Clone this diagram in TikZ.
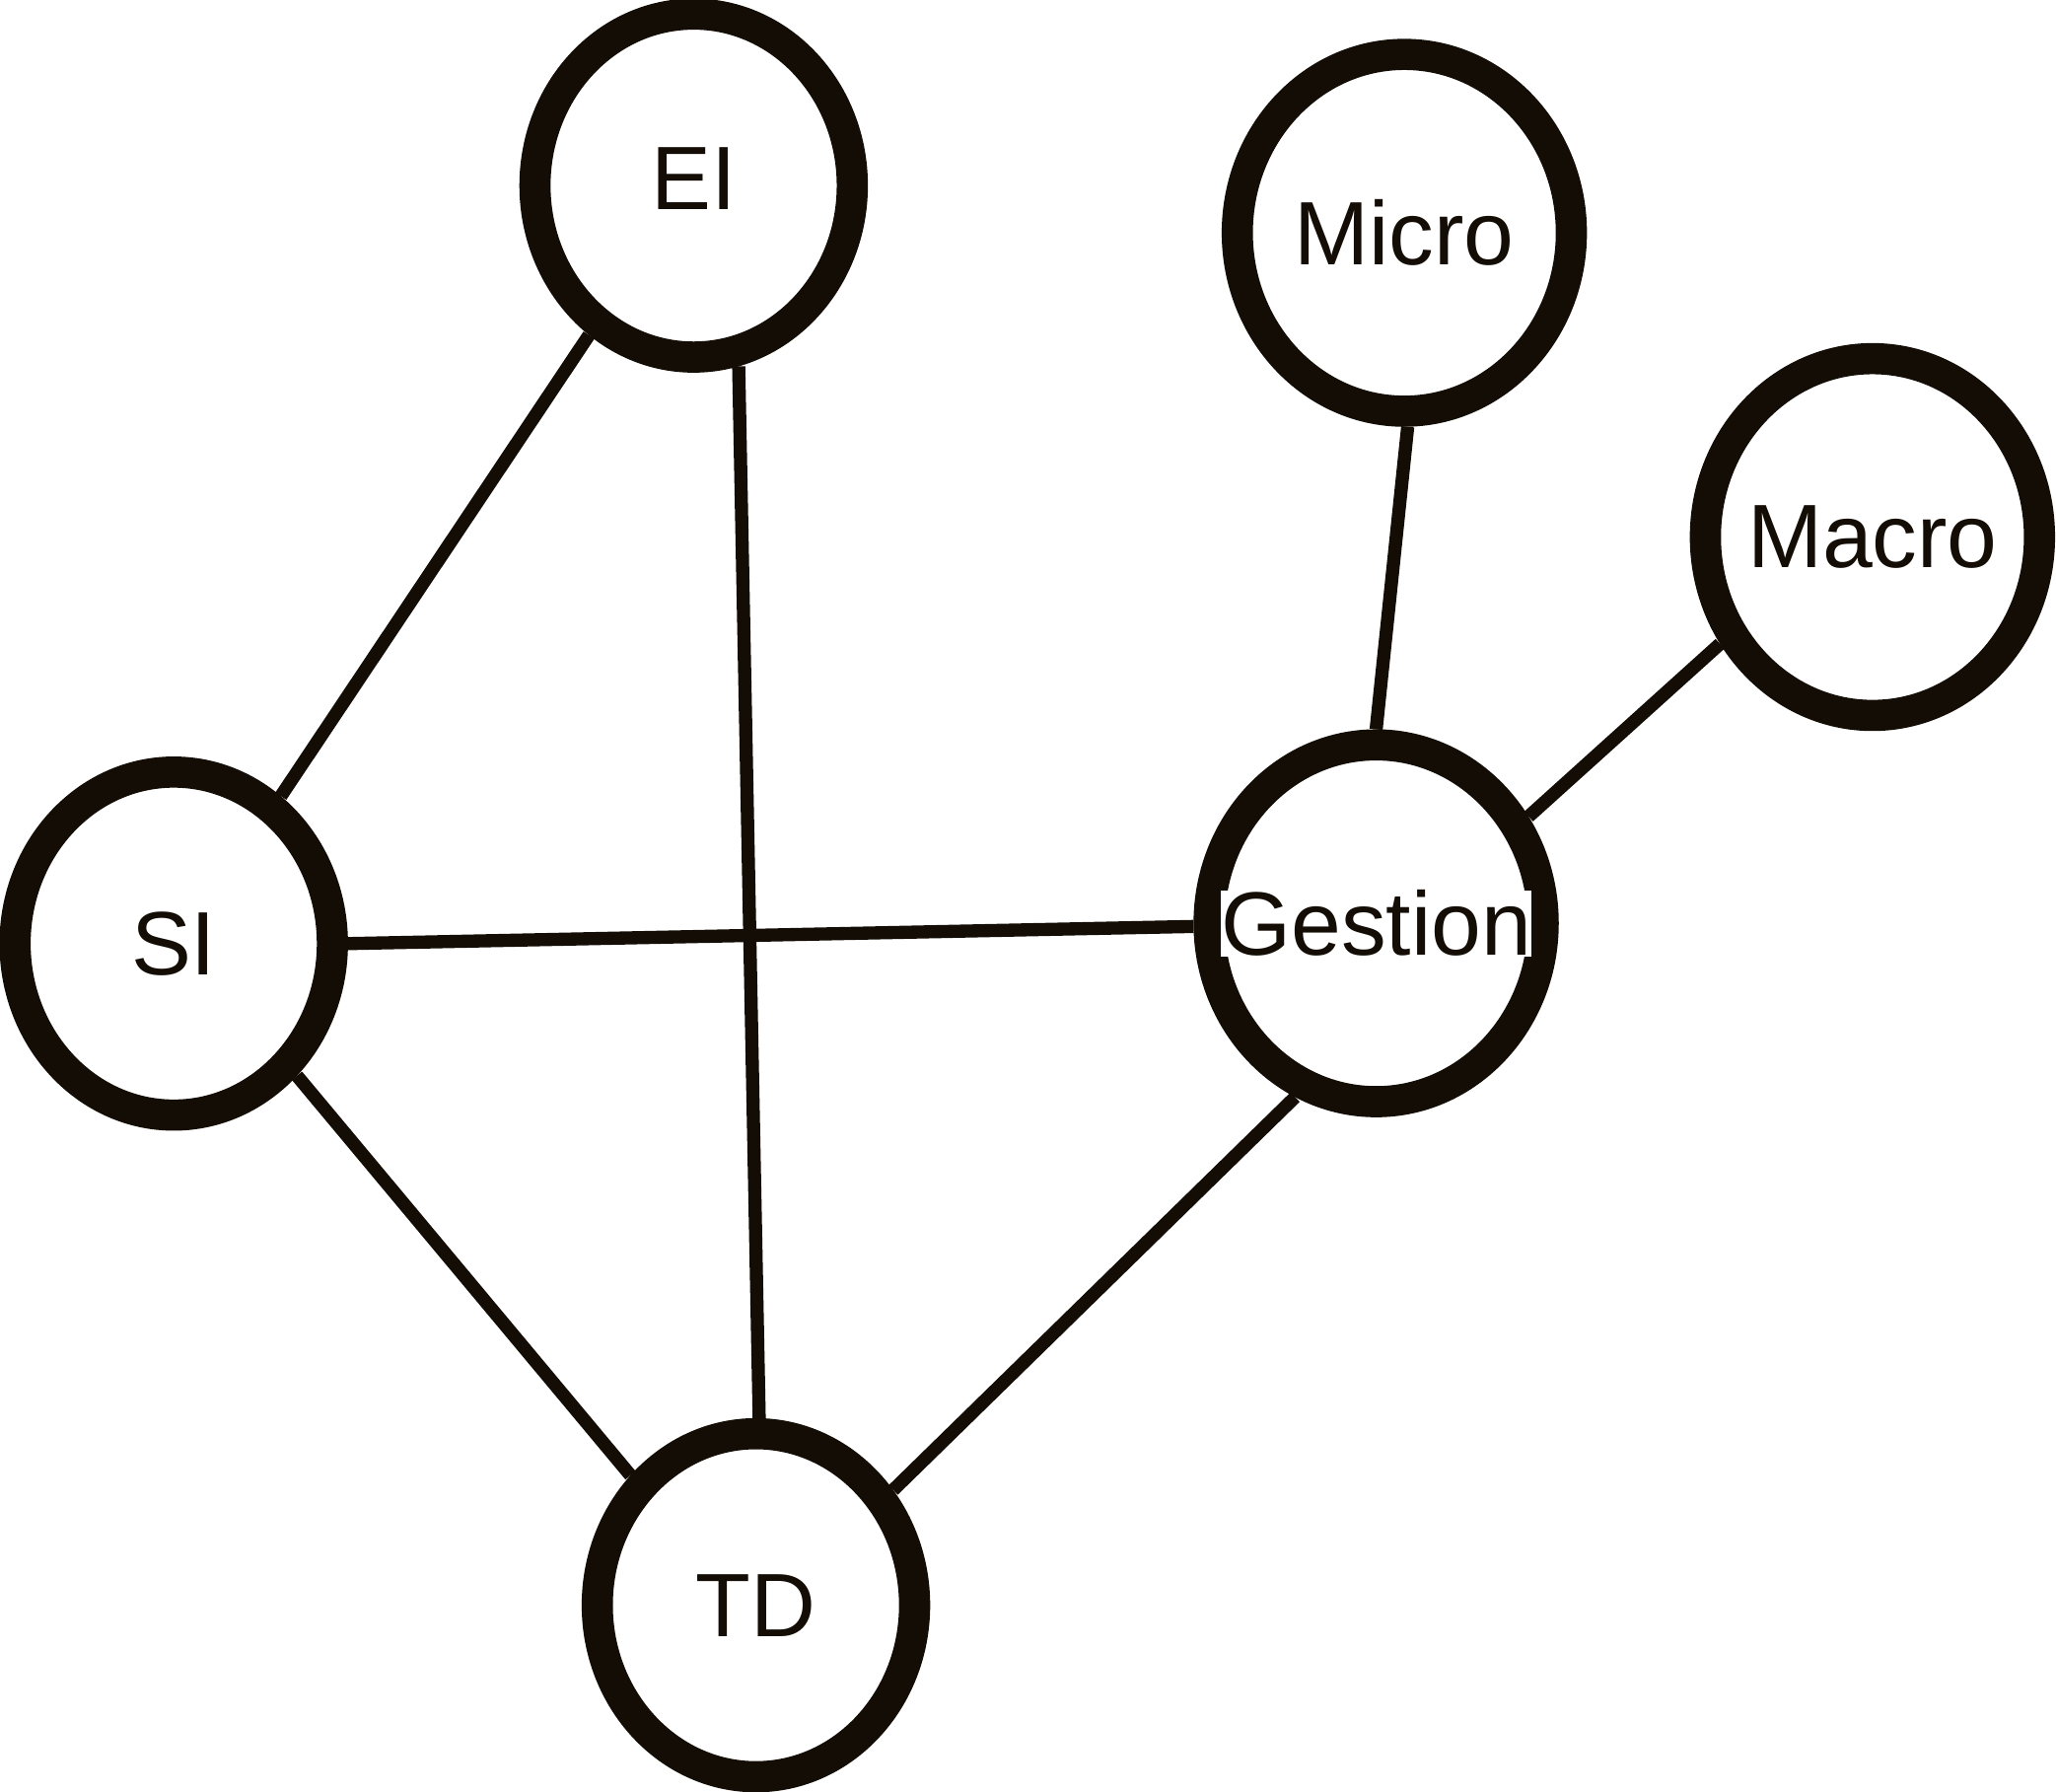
\documentclass[tikz,border=0pt]{standalone}
\usepackage{fontspec}
\setmainfont{Liberation Sans}
\usepackage{tikz}
\usetikzlibrary{shapes.geometric}
\newcommand{\nodetext}[1]{\makebox[0pt]{#1}}

\begin{document}
\begin{tikzpicture}[x=0.0133cm,y=-0.0133cm,line width=3.8pt,color={black!90!brown},
	main node/.style={ellipse,draw,line width=9pt,fill=white,inner sep=0pt,minimum width=3.22cm,minimum height=3.48cm,font=\fontsize{26}{31}\selectfont},
	big node/.style={main node,minimum width=3.39cm,minimum height=3.62cm}]
	\useasboundingbox (0,0) rectangle (1568,1366);
	\node[main node] (1) at (529,141.5) {\nodetext{\raisebox{4pt}{EI}}};
	\node[main node] (2) at (132.5,719.5) {\nodetext{SI}};
	\node[main node] (3) at (576.5,1224) {\nodetext{TD}};
	\node[big node] (4) at (1049.5,704) {\nodetext{\setlength{\fboxsep}{0pt}\colorbox{white}{Gestion}}};
	\node[big node] (5) at (1071,177.5) {\nodetext{Micro}};
	\node[big node] (6) at (1428,409.5) {\nodetext{Macro}};
	
	\path
		(1.235) edge (2.54)
		(1.284) edge (3.89)
		(2.0) edge (4.181)
		(2.313) edge (3.134)
		(4.245) edge (3.40)
		(4.90) edge (5.271)
		(4.35) edge (6.215);
\end{tikzpicture}
\end{document}
